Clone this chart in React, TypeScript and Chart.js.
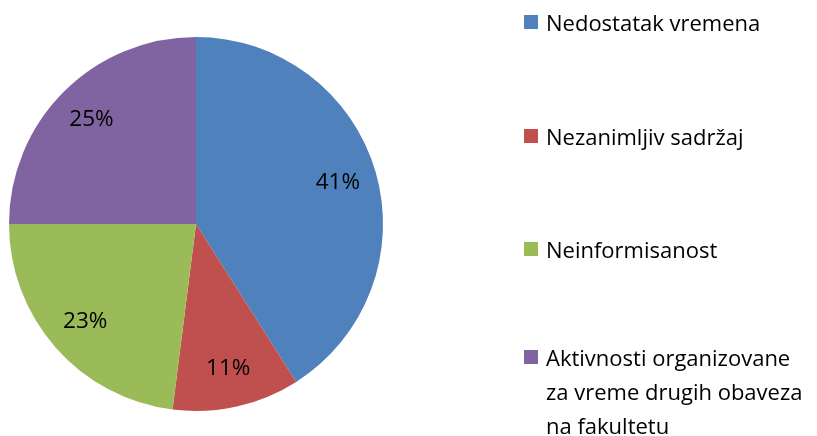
import React, { useEffect, useRef } from "react";
import { Chart, registerables } from "chart.js";

Chart.register(...registerables);

const categories = [
  "Nedostatak vremena",
  "Nezanimljiv sadržaj",
  "Neinformisanost",
  "Aktivnosti organizovane za vreme drugih obaveza na fakultetu",
];
const legendLines = [
  ["Nedostatak vremena"],
  ["Nezanimljiv sadržaj"],
  ["Neinformisanost"],
  ["Aktivnosti organizovane", "za vreme drugih obaveza", "na fakultetu"],
];
const values = [41, 11, 23, 25];
const colors = ["#4F81BD", "#C0504D", "#9BBB59", "#8064A2"];
const legendTops = [22, 136, 249, 357];

const FONT = "'Open Sans', Lato, sans-serif";

const labelPlugin = {
  id: "sliceLabels",
  afterDatasetsDraw(chart: any) {
    const ctx = chart.ctx;
    const meta = chart.getDatasetMeta(0);
    const total = values.reduce((a, b) => a + b, 0);
    ctx.save();
    ctx.font = `22.5px ${FONT}`;
    ctx.fillStyle = "#000";
    ctx.textAlign = "center";
    ctx.textBaseline = "middle";
    meta.data.forEach((arc: any, i: number) => {
      const { x, y, startAngle, endAngle, outerRadius } = arc.getProps(
        ["x", "y", "startAngle", "endAngle", "outerRadius"],
        true
      );
      const mid = (startAngle + endAngle) / 2;
      const r = outerRadius * 0.79;
      const pct = Math.round((values[i] / total) * 100);
      ctx.fillText(pct + "%", x + Math.cos(mid) * r, y + Math.sin(mid) * r);
    });
    ctx.restore();
  },
};

export default function App() {
  const ref = useRef<HTMLCanvasElement>(null);
  useEffect(() => {
    if (!ref.current) return;
    const chart = new Chart(ref.current, {
      type: "pie",
      data: {
        labels: categories,
        datasets: [
          {
            data: values,
            backgroundColor: colors,
            borderWidth: 0,
          },
        ],
      },
      options: {
        animation: false,
        responsive: false,
        maintainAspectRatio: false,
        layout: { padding: { left: 9, top: 37, right: 434, bottom: 25 } },
        plugins: { legend: { display: false }, tooltip: { enabled: false } },
      },
      plugins: [labelPlugin],
    });
    return () => chart.destroy();
  }, []);
  return (
    <div
      style={{
        position: "fixed",
        left: 0,
        top: 0,
        width: 817,
        height: 436,
        background: "#fff",
        fontFamily: FONT,
      }}
    >
      <canvas ref={ref} width={817} height={436} style={{ position: "absolute", left: 0, top: 0 }} />
      {legendLines.map((lines, i) => (
        <div key={i}>
          <div
            style={{
              position: "absolute",
              left: 524,
              top: legendTops[i] - 7,
              width: 14,
              height: 14,
              background: colors[i],
            }}
          />
          {lines.map((l, j) => (
            <div
              key={j}
              style={{
                position: "absolute",
                left: 546,
                top: legendTops[i] + j * 34 - 17,
                height: 34,
                lineHeight: "34px",
                fontSize: 22,
                color: "#000",
                whiteSpace: "nowrap",
              }}
            >
              {l}
            </div>
          ))}
        </div>
      ))}
    </div>
  );
}
